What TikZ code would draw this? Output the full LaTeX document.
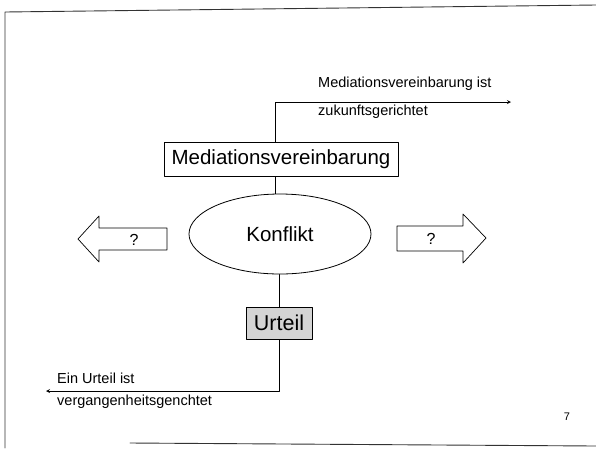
\documentclass[tikz,border=0pt]{standalone}
\usepackage{fontspec}
\setmainfont{Liberation Sans}
\usetikzlibrary{shapes.geometric}
\begin{document}
\begin{tikzpicture}[x=1pt, y=-1pt, line join=round, line cap=round, >=stealth,
	kasten/.style={draw, line width=0.8pt, inner sep=0pt},
	klein/.style={font=\fontsize{14.5}{16}\selectfont, anchor=west, inner sep=0pt},
	gross/.style={font=\fontsize{20.5}{24}\selectfont}]
	\useasboundingbox (0,0) rectangle (596,448);
	% Rahmen
	\draw[line width=0.9pt, black!80] (5,448) -- (5,12) -- (596,5);
	\draw[line width=0.9pt, black!80] (130,443) -- (596,446);
	% Mitte
	\node[kasten, gross, minimum width=234, minimum height=34] (mv) at (281,159) {Mediationsvereinbarung};
	\node[kasten, gross, ellipse, minimum width=182, minimum height=80] (konf) at (280,234) {Konflikt};
	\node[kasten, font=\fontsize{21.5}{24}\selectfont, fill=black!17, minimum width=66, minimum height=32] (urt) at (279,323) {Urteil};
	% oben
	\coordinate (knick1) at (275,102);
	\coordinate (zukunft) at (511,102);
	\draw[->, line width=0.8pt] (knick1 |- mv.north) -- (knick1) -- (zukunft);
	\draw[line width=0.6pt] (mv.south -| knick1) -- (konf.north -| knick1);
	\node[klein] (t1) at (318,84) {Mediationsvereinbarung ist};
	\node[klein] (t2) at (318,112) {zukunftsgerichtet};
	% unten
	\coordinate (knick2) at (279,391);
	\coordinate (vergangen) at (46,391);
	\draw[line width=0.6pt] (konf.south -| urt) -- (urt.north);
	\draw[->, line width=0.8pt] (urt.south) -- (knick2) -- (vergangen);
	\node[klein] (t3) at (57,378) {Ein Urteil ist};
	\node[klein] (t4) at (57,402) {vergangenheitsgenchtet};
	% Pfeile links und rechts
	\draw[line width=0.7pt] (78,239) -- (99,216) -- (99,228) -- (167,228) -- (167,250) -- (99,250) -- (99,262) -- cycle;
	\node[font=\fontsize{16}{18}\selectfont] (frage1) at (134,240) {?};
	\draw[line width=0.7pt] (486,238) -- (463,214) -- (463,226) -- (397,226) -- (397,251) -- (463,251) -- (463,263) -- cycle;
	\node[font=\fontsize{16}{18}\selectfont] (frage2) at (431,239) {?};
	\node[font=\fontsize{11}{13}\selectfont] (seite) at (567,417) {7};
\end{tikzpicture}
\end{document}
